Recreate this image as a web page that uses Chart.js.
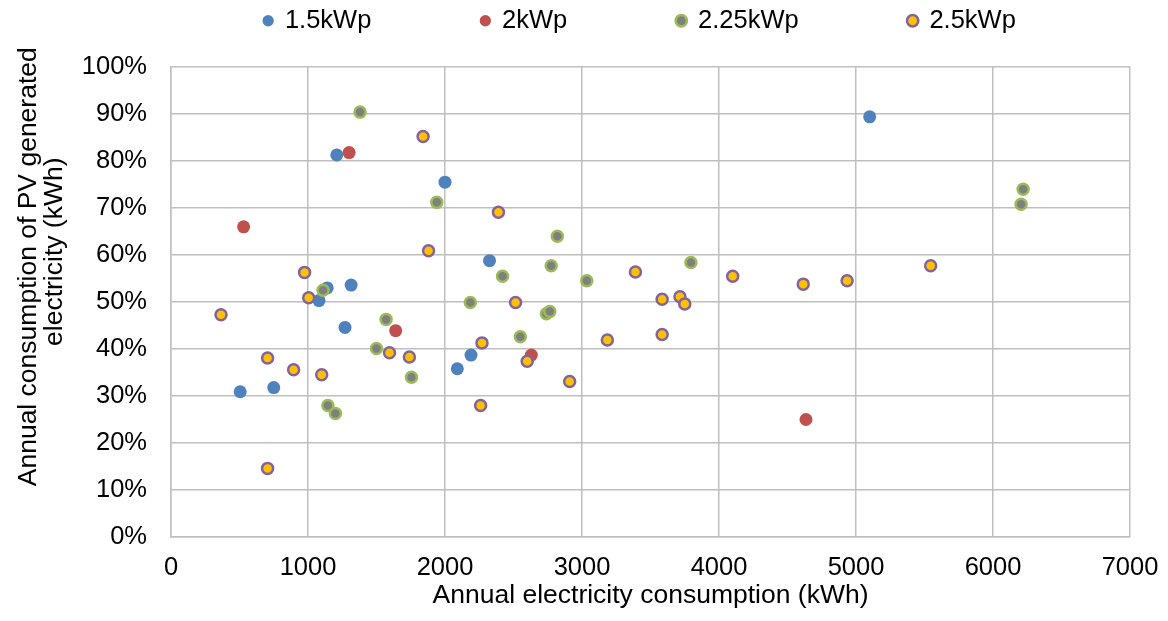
<!DOCTYPE html>
<html>
<head>
<meta charset="utf-8">
<script src="https://cdn.jsdelivr.net/npm/chart.js@4/dist/chart.umd.min.js"></script>
<style>
    html, body { margin: 0; padding: 0; background: #fff; }
    #wrap { width: 1168px; height: 621px; }
</style>
</head>
<body>
<div id="wrap"><canvas id="pvChart" width="1168" height="621"></canvas></div>
<script>
/* ---------- data ---------- */
const seriesNames = ['1.5kWp', '2kWp', '2.25kWp', '2.5kWp'];

// annual electricity consumption (kWh)
const kwp15X = [1210, 2000, 1140, 1315, 1080, 1270, 2190, 2090, 750, 505, 2325, 5100];
// annual consumption of PV generated electricity (%)
const kwp15Y = [81.3, 75.5, 53.0, 53.6, 50.3, 44.6, 38.7, 35.8, 31.8, 30.9, 58.8, 89.4];

const kwp2X = [1300, 530, 1640, 2630, 4635];
const kwp2Y = [81.8, 66.0, 43.9, 38.7, 25.0];

const kwp225X = [1380, 1940, 1110, 2185, 1570, 1500, 1755, 1145, 1200, 2820, 2775, 2420, 3035, 3795, 2740, 2765, 2550, 6220, 6205];
const kwp225Y = [90.4, 71.2, 52.5, 49.9, 46.3, 40.1, 34.0, 28.0, 26.3, 64.0, 57.7, 55.5, 54.5, 58.4, 47.5, 48.0, 42.6, 74.0, 70.8];

const kwp25X = [1840, 1880, 975, 1005, 365, 1595, 1740, 705, 895, 1100, 705, 2390, 3390, 4100, 3585, 3715, 3750, 2515, 2270, 2600, 2910, 2260, 3185, 3585, 5545, 4935, 4615];
const kwp25Y = [85.2, 60.9, 56.3, 50.9, 47.3, 39.2, 38.3, 38.1, 35.6, 34.5, 14.6, 69.1, 56.4, 55.5, 50.6, 51.1, 49.6, 49.9, 41.3, 37.4, 33.1, 28.0, 41.9, 43.1, 57.7, 54.5, 53.8];

const xTitle = 'Annual electricity consumption (kWh)';
const yTitle = ['Annual consumption of PV generated', 'electricity (kWh)'];

/* ---------- helpers ---------- */
const FONT = "'Liberation Sans', Arial, sans-serif";
const GRID = '#bfbfbf';

function toPoints(xs, ys) {
    return xs.map((x, i) => ({ x, y: ys[i] }));
}

// y title drawn by hand: two lines, sitting a little above the plot centre like the original
const yTitlePlugin = {
    id: 'yTitle',
    afterDraw(chart) {
        const { ctx, chartArea } = chart;
        const h = chartArea.bottom - chartArea.top;
        const lines = [
            { text: yTitle[0], x: 29, y: chartArea.top + h * 0.425 },
            { text: yTitle[1], x: 55, y: chartArea.top + h * 0.393 }
        ];
        ctx.save();
        ctx.font = `26.5px ${FONT}`;
        ctx.fillStyle = '#000';
        ctx.textAlign = 'center';
        ctx.textBaseline = 'middle';
        lines.forEach(l => {
            ctx.save();
            ctx.translate(l.x, l.y);
            ctx.rotate(-Math.PI / 2);
            ctx.fillText(l.text, 0, 0);
            ctx.restore();
        });
        ctx.restore();
    }
};

// legend: fixed box height, wide gaps between items
const legendPlacement = {
    id: 'legendPlacement',
    beforeInit(chart) {
        const fit = chart.legend.fit;
        chart.legend.fit = function () {
            fit.bind(chart.legend)();
            this.height = 67;
        };
    },
    afterLayout(chart) {
        const lg = chart.legend;
        const pad = lg.options.labels.padding;
        lg.top = 8 - pad;
        lg.left += 75;
        lg.right += 75;
    }
};

const datasets = [
    {
        label: seriesNames[0],
        data: toPoints(kwp15X, kwp15Y),
        backgroundColor: '#4f81bd',
        borderColor: '#4f81bd',
        pointRadius: 6.5,
        borderWidth: 0,
        order: 3
    },
    {
        label: seriesNames[1],
        data: toPoints(kwp2X, kwp2Y),
        backgroundColor: '#c0504d',
        borderColor: '#c0504d',
        pointRadius: 6.5,
        borderWidth: 0,
        order: 2
    },
    {
        label: seriesNames[2],
        data: toPoints(kwp225X, kwp225Y),
        backgroundColor: '#7f7f7f',
        borderColor: '#9bbb59',
        pointRadius: 5.5,
        borderWidth: 2.5,
        order: 1
    },
    {
        label: seriesNames[3],
        data: toPoints(kwp25X, kwp25Y),
        backgroundColor: '#ffc000',
        borderColor: '#8064a2',
        pointRadius: 5.5,
        borderWidth: 2.5,
        order: 0
    }
];

new Chart(document.getElementById('pvChart'), {
    type: 'scatter',
    data: { datasets },
    options: {
        responsive: false,
        animation: false,
        devicePixelRatio: 1,
        layout: { padding: { left: 0, right: 38, top: 0, bottom: 0 } },
        plugins: {
            legend: {
                position: 'top',
                labels: {
                    color: '#000',
                    font: { family: FONT, size: 25.5 },
                    usePointStyle: true,
                    pointStyle: 'circle',
                    boxWidth: 8,
                    boxHeight: 8,
                    padding: 110,
                    sort: (a, b) => a.datasetIndex - b.datasetIndex
                }
            },
            tooltip: { enabled: false }
        },
        scales: {
            x: {
                type: 'linear',
                min: 0,
                max: 7000,
                afterFit: scale => { scale.height = 84; },
                ticks: {
                    stepSize: 1000,
                    color: '#000',
                    padding: 0,
                    font: { family: FONT, size: 25.5 },
                    callback: v => String(v)
                },
                // invisible tick marks push the labels down without widening the right margin
                grid: { color: GRID, lineWidth: 1.5, drawTicks: true, tickLength: 16, tickColor: 'rgba(0,0,0,0)' },
                border: { color: GRID, width: 1.5 },
                title: {
                    display: true,
                    text: xTitle,
                    color: '#000',
                    font: { family: FONT, size: 26.5 },
                    padding: { top: 0, bottom: 9 }
                }
            },
            y: {
                type: 'linear',
                min: 0,
                max: 100,
                afterFit: scale => { scale.width = 171; },
                ticks: {
                    stepSize: 10,
                    color: '#000',
                    padding: 24,
                    font: { family: FONT, size: 25.5 },
                    callback: v => v + '%'
                },
                grid: { color: GRID, lineWidth: 1.5, drawTicks: false },
                border: { color: GRID, width: 1.5 }
            }
        }
    },
    plugins: [yTitlePlugin, legendPlacement]
});
</script>
</body>
</html>
